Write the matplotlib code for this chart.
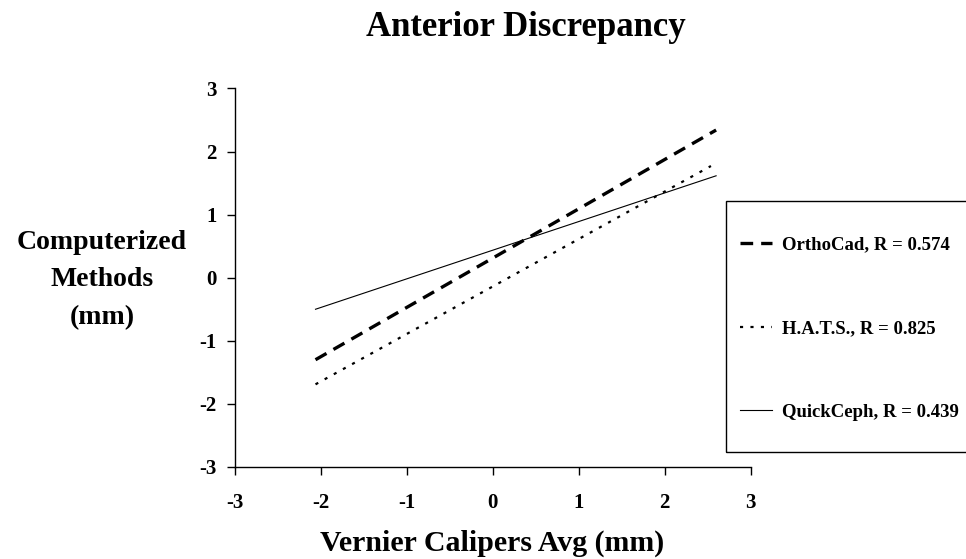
import matplotlib.pyplot as plt
from matplotlib.patches import Rectangle

# fitted regression lines
x_start = [-2.06, -2.06, -2.06]
x_end = [2.6, 2.54, 2.6]
y_start = [-1.30, -1.69, -0.50]
y_end = [2.34, 1.77, 1.615]
labels = ["OrthoCad, R = 0.574", "H.A.T.S., R = 0.825", "QuickCeph, R = 0.439"]
ticks = [-3, -2, -1, 0, 1, 2, 3]

plt.rcParams['font.family'] = ['Liberation Serif', 'DejaVu Serif']
plt.rcParams['font.weight'] = 'bold'
plt.rcParams['axes.unicode_minus'] = False

W, H = 966, 559
fig = plt.figure(figsize=(W / 100, H / 100), dpi=100)
ax = fig.add_axes([234.7 / W, 1 - 467 / H, (750.5 - 234.7) / W, (467 - 88.4) / H])

styles = [
    dict(linestyle=(0, (3.8, 2.4)), linewidth=2.4),
    dict(linestyle=(0, (1.4, 3.3)), linewidth=1.6),
    dict(linestyle='-', linewidth=0.8),
]
for i in range(3):
    ax.plot([x_start[i], x_end[i]], [y_start[i], y_end[i]], color='black',
            label=labels[i], **styles[i])

ax.set_xlim(-3, 3)
ax.set_ylim(-3, 3)
ax.set_xticks(ticks)
ax.set_yticks(ticks)
ax.tick_params(direction='out', length=6, width=1, labelsize=15)
ax.tick_params(axis='x', pad=13)
ax.tick_params(axis='y', pad=7)
for s in ['top', 'right']:
    ax.spines[s].set_visible(False)
for s in ['left', 'bottom']:
    ax.spines[s].set_linewidth(1)

fig.text(526 / W, 1 - 27 / H, "Anterior Discrepancy", ha='center', va='center',
         fontsize=25, fontweight='bold')
fig.text(492 / W, 1 - 543 / H, "Vernier Calipers Avg (mm)", ha='center', va='center',
         fontsize=21.5, fontweight='bold')
fig.text(102 / W, 1 - 280 / H, "Computerized\nMethods\n(mm)", ha='center', va='center',
         fontsize=20, fontweight='bold', linespacing=1.65)

# legend frame (runs off the right edge like the original)
fig.patches.append(Rectangle((726 / W, 1 - 452 / H), 300 / W, (452 - 201) / H,
                             transform=fig.transFigure, fill=False,
                             edgecolor='black', linewidth=1))
leg = fig.legend(loc='center left', bbox_to_anchor=(740 / W, 1 - 328.5 / H),
                 frameon=False, fontsize=13.5, labelspacing=3.55,
                 handlelength=1.7, handletextpad=0.56,
                 borderpad=0, borderaxespad=0)

fig.savefig("out.png", dpi=100)
